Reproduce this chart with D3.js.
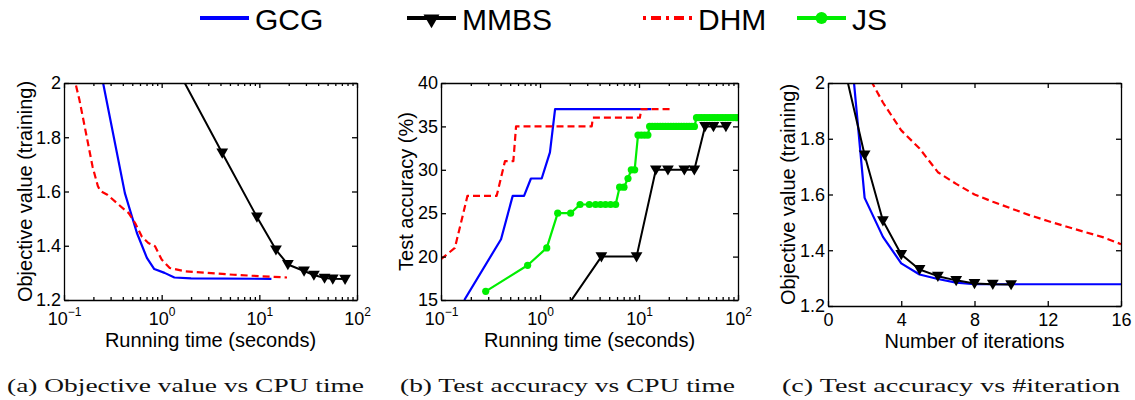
<!DOCTYPE html>
<html>
<head>
<meta charset="utf-8">
<script src="https://cdn.jsdelivr.net/npm/d3@7"></script>
<style>
  body { margin: 0; background: #fff; }
  svg { display: block; font-family: 'Liberation Sans', Arial, sans-serif; }
  .axis path, .axis line { stroke: #000; stroke-width: 1.3; }
  .axis text { font-size: 18px; fill: #000; font-family: 'Liberation Sans', Arial, sans-serif; }
  .label { font-size: 20px; fill: #000; }
  .caption { font-family: 'Liberation Serif', 'Times New Roman', serif; font-size: 19px; fill: #111; }
</style>
</head>
<body>
<svg id="chart" width="1135" height="400"></svg>
<script>
'use strict';

// ---- data ----
var legendNames = ['GCG', 'MMBS', 'DHM', 'JS'];

var logTicks = [0.1, 1, 10, 100];
var minorLogTicks = [0.2, 0.3, 0.4, 0.5, 0.6, 0.7, 0.8, 0.9, 2, 3, 4, 5, 6, 7, 8, 9, 20, 30, 40, 50, 60, 70, 80, 90];
var objTicks = [1.2, 1.4, 1.6, 1.8, 2];
var accTicks = [15, 20, 25, 30, 35, 40];
var iterTicks = [0, 4, 8, 12, 16];

var captions = ['(a) Objective value vs CPU time', '(b) Test accuracy vs CPU time', '(c) Test accuracy vs #iteration'];
var xLabels = ['Running time (seconds)', 'Running time (seconds)', 'Number of iterations'];
var yLabels = ['Objective value (training)', 'Test accuracy (%)', 'Objective value (training)'];

// MMBS: one point per iteration
var mmbsIter = [1, 2, 3, 4, 5, 6, 7, 8, 9, 10];
var mmbsTime = [1.58, 4.17, 9.45, 14.8, 19.6, 28.7, 36.2, 46.5, 56.5, 75.5];
var mmbsObj = [2.025, 1.742, 1.506, 1.385, 1.331, 1.307, 1.292, 1.281, 1.278, 1.277];
var mmbsAcc = [13, 20, 20, 30, 30, 30, 30, 35, 35, 35];

// (a) objective vs time
var gcgObjTime = [0.172, 0.42, 0.558, 0.706, 0.84, 1.07, 1.35, 2.0, 13.3];
var gcgObj = [2.30, 1.594, 1.447, 1.355, 1.314, 1.300, 1.283, 1.280, 1.278];
var dhmObjTime = [0.125, 0.144, 0.168, 0.196, 0.222, 0.235, 0.278, 0.364, 0.46, 0.536, 0.626, 0.73, 0.855, 1.0, 1.21, 1.72, 2.96, 5.46, 10, 19.2];
var dhmObj = [2.03, 1.937, 1.815, 1.692, 1.62, 1.602, 1.588, 1.551, 1.52, 1.483, 1.434, 1.41, 1.398, 1.349, 1.318, 1.306, 1.300, 1.293, 1.288, 1.283];

// (b) accuracy vs time
var gcgAccTime = [0.172, 0.404, 0.53, 0.69, 0.81, 1.04, 1.26, 1.42, 13.3];
var gcgAcc = [15, 22, 27, 27, 29, 29, 32, 37, 37];
var dhmAccTime = [0.1, 0.138, 0.168, 0.185, 0.365, 0.443, 0.538, 0.573, 3.33, 3.42, 10.2, 10.55, 20.5];
var dhmAcc = [19.7, 21, 25, 27, 27, 31, 31, 35, 35, 36, 36, 37, 37];
var jsTime = [0.283, 0.75, 1.17, 1.51, 2.04, 2.54, 3.15, 3.64, 4.09, 4.59, 5.16, 5.81, 6.37, 7.05, 7.74, 8.36, 9.04,
  9.77, 10.55, 11.4, 12.3,
  12.8, 13.6, 14.5, 15.4, 16.4, 17.4, 18.5, 19.7, 21.0, 22.3, 23.7, 25.2, 26.8, 28.5, 30.3, 32.2, 34.2, 36.3,
  38.1, 40.5, 43.0, 45.7, 48.6, 51.6, 54.9, 58.3, 62.0, 65.9, 70.0, 74.4, 79.1, 84.0, 89.3, 94.9, 100];
var jsAcc = [16, 19, 21, 25, 25, 26, 26, 26, 26, 26, 26, 26, 28, 28, 29, 30, 30,
  34, 34, 34, 34,
  35, 35, 35, 35, 35, 35, 35, 35, 35, 35, 35, 35, 35, 35, 35, 35, 35, 35,
  36, 36, 36, 36, 36, 36, 36, 36, 36, 36, 36, 36, 36, 36, 36, 36, 36];

// (c) objective vs iteration
var gcgIter = [1, 2, 3, 4, 5, 6, 7, 8, 9, 10, 11, 12, 13, 14, 15, 16];
var gcgIterObj = [2.30, 1.588, 1.448, 1.353, 1.313, 1.297, 1.284, 1.278, 1.278, 1.278, 1.278, 1.278, 1.278, 1.278, 1.278, 1.278];
var dhmIter = [1, 2, 3, 4, 5, 6, 7, 8, 9, 10, 11, 12, 13, 14, 15, 16];
var dhmIterObj = [2.35, 2.05, 1.93, 1.83, 1.765, 1.68, 1.638, 1.60, 1.574, 1.55, 1.526, 1.505, 1.485, 1.466, 1.447, 1.422];

// ---- styles ----
var colors = { GCG: '#0000ff', MMBS: '#000000', DHM: '#ff0000', JS: '#00ee00' };

var svg = d3.select('#chart');

function zip(xs, ys) {
  return xs.map(function(d, i) { return [d, ys[i]]; });
}

var panels = [
  {
    box: { left: 64, right: 357, top: 83, bottom: 300 }, log: true,
    xDomain: [0.1, 100], xTicks: logTicks, yDomain: [1.2, 2], yTicks: objTicks,
    yLabelX: 25, xLabelY: 346.5,
    series: [
      { name: 'GCG', pts: zip(gcgObjTime, gcgObj) },
      { name: 'DHM', pts: zip(dhmObjTime, dhmObj) },
      { name: 'MMBS', pts: zip(mmbsTime, mmbsObj) }
    ]
  },
  {
    box: { left: 441, right: 738, top: 83, bottom: 300 }, log: true,
    xDomain: [0.1, 100], xTicks: logTicks, yDomain: [15, 40], yTicks: accTicks,
    yLabelX: 406, xLabelY: 346.5,
    series: [
      { name: 'GCG', pts: zip(gcgAccTime, gcgAcc) },
      { name: 'DHM', pts: zip(dhmAccTime, dhmAcc) },
      { name: 'JS', pts: zip(jsTime, jsAcc) },
      { name: 'MMBS', pts: zip(mmbsTime, mmbsAcc) }
    ]
  },
  {
    box: { left: 828, right: 1121, top: 83, bottom: 306 }, log: false,
    xDomain: [0, 16], xTicks: iterTicks, yDomain: [1.2, 2], yTicks: objTicks,
    yLabelX: 788, xLabelY: 347.5,
    series: [
      { name: 'DHM', pts: zip(dhmIter, dhmIterObj) },
      { name: 'GCG', pts: zip(gcgIter, gcgIterObj) },
      { name: 'MMBS', pts: zip(mmbsIter, mmbsObj) }
    ]
  }
];

var triangle = d3.symbol().type(d3.symbolTriangle).size(60);

function drawMarkers(g, name, pts, x, y) {
  if (name === 'MMBS') {
    g.selectAll('path.marker').data(pts).enter().append('path')
      .attr('class', 'marker')
      .attr('d', triangle)
      .attr('fill', '#000')
      .attr('transform', function(d) { return 'translate(' + x(d[0]) + ',' + (y(d[1]) - 1) + ') rotate(180)'; });
  } else if (name === 'JS') {
    g.selectAll('circle.marker').data(pts).enter().append('circle')
      .attr('class', 'marker')
      .attr('r', 3.6)
      .attr('fill', colors.JS)
      .attr('cx', function(d) { return x(d[0]); })
      .attr('cy', function(d) { return y(d[1]); });
  }
}

function lineStyle(sel, name) {
  sel.attr('fill', 'none')
    .attr('stroke', colors[name])
    .attr('stroke-width', name === 'MMBS' ? 2 : 2.2)
    .attr('stroke-linejoin', 'round');
  if (name === 'DHM') sel.attr('stroke-dasharray', '7,4');
}

panels.forEach(function(p, pi) {
  var b = p.box;
  var x = (p.log ? d3.scaleLog() : d3.scaleLinear()).domain(p.xDomain).range([b.left, b.right]);
  var y = d3.scaleLinear().domain(p.yDomain).range([b.bottom, b.top]);

  var clipId = 'clip' + pi;
  svg.append('clipPath').attr('id', clipId)
    .append('rect')
    .attr('x', b.left).attr('y', b.top)
    .attr('width', b.right - b.left).attr('height', b.bottom - b.top);

  var plot = svg.append('g').attr('clip-path', 'url(#' + clipId + ')');

  var line = d3.line()
    .x(function(d) { return x(d[0]); })
    .y(function(d) { return y(d[1]); });

  p.series.forEach(function(s) {
    var g = plot.append('g');
    g.append('path').datum(s.pts).attr('d', line).call(lineStyle, s.name);
    drawMarkers(g, s.name, s.pts, x, y);
  });

  // axes, ticks pointing inward on all four sides
  var bottom = svg.append('g').attr('class', 'axis')
    .attr('transform', 'translate(0,' + b.bottom + ')')
    .call(d3.axisBottom(x).tickValues(p.xTicks).tickSizeInner(-5).tickSizeOuter(0));
  svg.append('g').attr('class', 'axis')
    .attr('transform', 'translate(0,' + b.top + ')')
    .call(d3.axisTop(x).tickValues(p.xTicks).tickSizeInner(-5).tickSizeOuter(0).tickFormat(''));
  svg.append('g').attr('class', 'axis')
    .attr('transform', 'translate(' + b.left + ',0)')
    .call(d3.axisLeft(y).tickValues(p.yTicks).tickSizeInner(-5).tickSizeOuter(0).tickPadding(3)
      .tickFormat(function(d) { return String(d); }));
  svg.append('g').attr('class', 'axis')
    .attr('transform', 'translate(' + b.right + ',0)')
    .call(d3.axisRight(y).tickValues(p.yTicks).tickSizeInner(-5).tickSizeOuter(0).tickFormat(''));

  if (p.log) {
    [[b.bottom, d3.axisBottom], [b.top, d3.axisTop]].forEach(function(a) {
      svg.append('g').attr('class', 'axis')
        .attr('transform', 'translate(0,' + a[0] + ')')
        .call(a[1](x).tickValues(minorLogTicks).tickSizeInner(-3).tickSizeOuter(0).tickFormat(''))
        .select('.domain').remove();
    });
    // 10^n labels
    bottom.selectAll('.tick text')
      .text(null)
      .attr('y', 24.5)
      .attr('dy', null)
      .each(function(d) {
        var t = d3.select(this);
        t.append('tspan').text('10');
        t.append('tspan').attr('dy', -9).attr('font-size', 12)
          .text(String(Math.round(Math.log10(d))).replace('-', '\u2212'));
      });
  } else {
    bottom.selectAll('.tick text').attr('y', 20).attr('dy', null);
  }

  // axis titles
  svg.append('text').attr('class', 'label')
    .attr('x', (b.left + b.right) / 2).attr('y', p.xLabelY)
    .attr('text-anchor', 'middle')
    .text(xLabels[pi]);
  svg.append('text').attr('class', 'label')
    .attr('transform', 'translate(' + p.yLabelX + ',' + ((b.top + b.bottom) / 2) + ') rotate(-90)')
    .attr('text-anchor', 'middle')
    .attr('dy', '0.35em')
    .text(yLabels[pi]);
});

// captions (stretched to match the wide Computer Modern look)
var captionBox = [[7, 357], [400, 335], [782, 338]];
svg.selectAll('text.caption').data(captions).enter().append('text')
  .attr('class', 'caption')
  .attr('x', function(d, i) { return captionBox[i][0]; })
  .attr('y', 392)
  .attr('textLength', function(d, i) { return captionBox[i][1]; })
  .attr('lengthAdjust', 'spacingAndGlyphs')
  .text(function(d) { return d; });

// legend
var legendX = [200, 407, 643, 797];
var legendY = 18;
var legend = svg.append('g');
legendNames.forEach(function(name, i) {
  var x0 = legendX[i], x1 = x0 + 49;
  var g = legend.append('g');
  var ln = g.append('line')
    .attr('x1', x0).attr('x2', x1).attr('y1', legendY).attr('y2', legendY)
    .attr('stroke', colors[name]).attr('stroke-width', 4);
  if (name === 'DHM') ln.attr('stroke-dasharray', '3,5,10,5');
  if (name === 'MMBS') {
    g.append('path').attr('d', d3.symbol().type(d3.symbolTriangle).size(110))
      .attr('fill', '#000')
      .attr('transform', 'translate(' + ((x0 + x1) / 2) + ',' + (legendY + 1) + ') rotate(180)');
  }
  if (name === 'JS') {
    g.append('circle').attr('cx', (x0 + x1) / 2).attr('cy', legendY).attr('r', 6).attr('fill', colors.JS);
  }
  g.append('text')
    .attr('x', x1 + 6).attr('y', legendY + 11.5)
    .attr('font-size', 30)
    .text(name);
});
</script>
</body>
</html>
